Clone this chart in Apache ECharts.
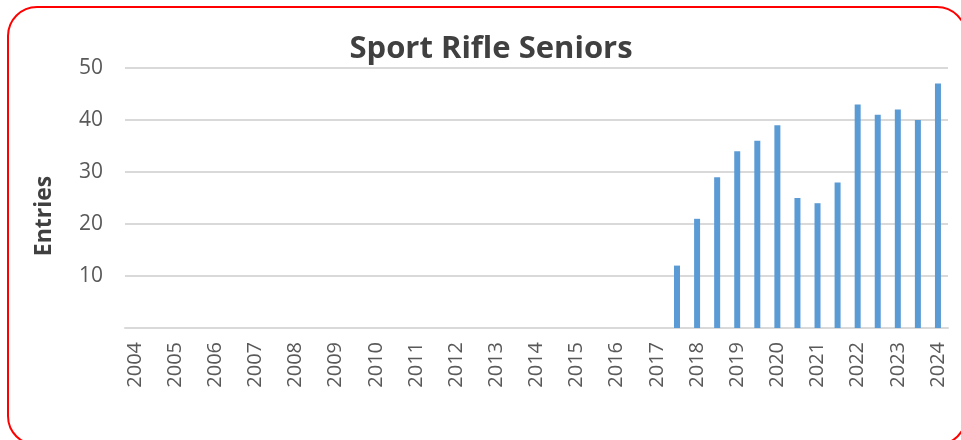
<!DOCTYPE html>
<html><head><meta charset="utf-8">
<script src="https://cdn.jsdelivr.net/npm/echarts@6/dist/echarts.min.js"></script>
<style>
html,body{margin:0;padding:0;background:#fff;}
#frame{position:absolute;left:7px;top:6px;width:960px;height:440px;border:2px solid #ff0000;border-radius:30px;box-sizing:border-box;}
#chart{position:absolute;left:0;top:0;width:961px;height:440px;}
</style></head>
<body>
<div id="frame"></div>
<div id="chart"></div>
<script>
const years = ['2004','2005','2006','2007','2008','2009','2010','2011','2012','2013','2014','2015','2016','2017','2018','2019','2020','2021','2022','2023','2024'];
// Half-year slots between labelled years (two entries per year from 2017-18)
const categories = [];
years.forEach((y, i) => { categories.push(y); if (i < years.length - 1) categories.push(y + '½'); });
const entriesByCategory = {
  '2017½': 12, '2018': 21, '2018½': 29, '2019': 34, '2019½': 36, '2020': 39,
  '2020½': 25, '2021': 24, '2021½': 28, '2022': 43, '2022½': 41, '2023': 42,
  '2023½': 40, '2024': 47
};
const values = categories.map(c => (c in entriesByCategory ? entriesByCategory[c] : null));
const yTicks = [0, 10, 20, 30, 40, 50];

const chart = echarts.init(document.getElementById('chart'));
chart.setOption({
  animation: false,
  title: {
    text: 'Sport Rifle Seniors', left: 486, top: 29, textAlign: 'center',
    textStyle: { fontFamily: 'Open Sans', fontWeight: 'bold', fontSize: 31, color: '#404040' }
  },
  graphic: [{
    type: 'text', x: 44, y: 216, rotation: Math.PI / 2,
    style: {
      text: 'Entries', x: 0, y: 0, align: 'center', verticalAlign: 'middle',
      font: 'bold 23px "Open Sans"', fill: '#404040'
    }
  }],
  grid: { left: 125, right: 13, top: 68, bottom: 112 },
  xAxis: {
    type: 'category', data: categories,
    axisTick: { show: false },
    axisLine: { lineStyle: { color: '#d9d9d9', width: 2 } },
    axisLabel: {
      interval: 1, rotate: 90, margin: 14,
      fontFamily: 'Open Sans', fontSize: 20, color: '#595959'
    }
  },
  yAxis: {
    type: 'value', min: yTicks[0], max: yTicks[yTicks.length - 1], interval: 10,
    axisLine: { show: false }, axisTick: { show: false },
    axisLabel: {
      margin: 22, fontFamily: 'Open Sans', fontSize: 21, color: '#595959',
      formatter: v => (v === 0 ? '' : String(v))
    },
    splitLine: { lineStyle: { color: '#d9d9d9', width: 2 } }
  },
  series: [{
    type: 'bar', data: values, barWidth: 6,
    itemStyle: { color: '#5b9bd5' }
  }]
});
</script>
</body></html>
